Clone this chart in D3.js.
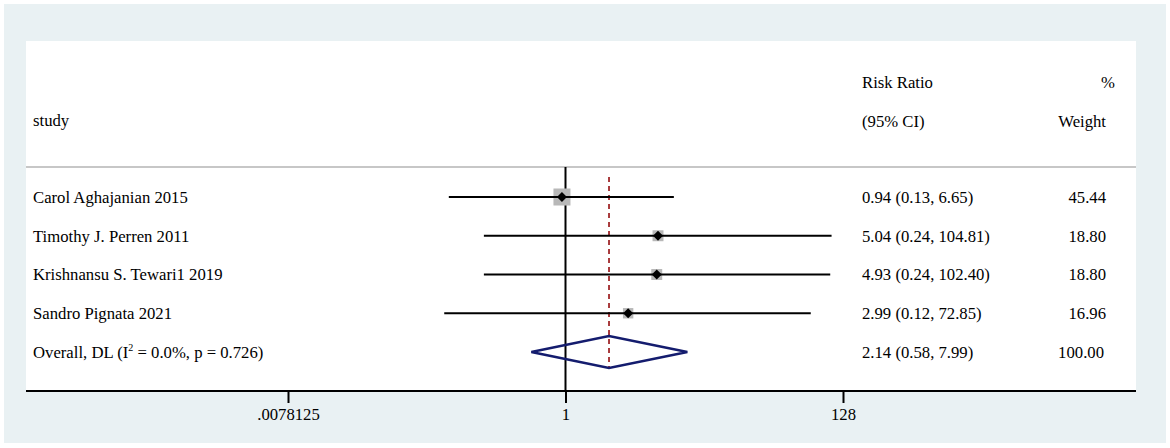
<!DOCTYPE html>
<html><head><meta charset="utf-8">
<script src="https://cdn.jsdelivr.net/npm/d3@7"></script>
<style>html,body{margin:0;padding:0;background:#fff;}svg{display:block;}</style>
</head><body>
<svg id="c" width="1170" height="448"></svg>
<script>
const studies = ["Carol Aghajanian 2015", "Timothy J. Perren 2011", "Krishnansu S. Tewari1 2019", "Sandro Pignata 2021"];
const rr = [0.94, 5.04, 4.93, 2.99];
const lo = [0.13, 0.24, 0.24, 0.12];
const hi = [6.65, 104.81, 102.40, 72.85];
const weights = [45.44, 18.80, 18.80, 16.96];
const ciText = ["0.94 (0.13, 6.65)", "5.04 (0.24, 104.81)", "4.93 (0.24, 102.40)", "2.99 (0.12, 72.85)"];
const weightText = ["45.44", "18.80", "18.80", "16.96"];
const overallRR = 2.14, overallLo = 0.58, overallHi = 7.99;
const overallCI = "2.14 (0.58, 7.99)", overallW = "100.00";
const tickValues = [0.0078125, 1, 128];
const tickLabels = [".0078125", "1", "128"];

const svg = d3.select("#c");
const font = "'Liberation Serif','Times New Roman',serif";
const fs = 16.7;

// backgrounds
svg.append("rect").attr("x",4).attr("y",4).attr("width",1162).attr("height",439).attr("fill","#e9f1f3");
svg.append("rect").attr("x",26).attr("y",41).attr("width",1110).attr("height",350).attr("fill","#fff");

const x = d3.scaleLog().base(2).domain([2**-7, 2**7]).range([288, 843]);
const y = d3.scalePoint().domain(d3.range(5)).range([197, 352]);
const box = d3.scaleSqrt().domain([0, 45.44]).range([0, 17]);

// header
const hdr = svg.append("g").attr("font-family", font).attr("font-size", fs).attr("fill","#000");
hdr.append("text").attr("x",33).attr("y",120).attr("dy","0.35em").text("study");
hdr.append("text").attr("x",862).attr("y",82).attr("dy","0.35em").text("Risk Ratio");
hdr.append("text").attr("x",862).attr("y",121).attr("dy","0.35em").text("(95% CI)");
hdr.append("text").attr("x",1115).attr("y",82).attr("dy","0.35em").attr("text-anchor","end").text("%");
hdr.append("text").attr("x",1106).attr("y",121).attr("dy","0.35em").attr("text-anchor","end").text("Weight");
svg.append("line").attr("x1",26).attr("x2",1136).attr("y1",167).attr("y2",167).attr("stroke","#b4b4b4").attr("stroke-width",1.5);

// null line
svg.append("line").attr("x1",x(1)).attr("x2",x(1)).attr("y1",167).attr("y2",391).attr("stroke","#000").attr("stroke-width",2);

// overall dashed line
svg.append("line").attr("x1",x(overallRR)).attr("x2",x(overallRR)).attr("y1",177).attr("y2",369)
  .attr("stroke","#a0282a").attr("stroke-width",1.8).attr("stroke-dasharray","5,4");

// study rows
const rows = svg.append("g");
studies.forEach((s,i)=>{
  const yy = y(i);
  const b = box(weights[i]);
  rows.append("rect").attr("x",x(rr[i])-b/2).attr("y",yy-b/2).attr("width",b).attr("height",b).attr("fill","#b8b8b8");
  rows.append("line").attr("x1",x(lo[i])).attr("x2",x(hi[i])).attr("y1",yy).attr("y2",yy).attr("stroke","#000").attr("stroke-width",2);
  const cx = x(rr[i]), r = 5;
  rows.append("path").attr("d",`M${cx-r},${yy}L${cx},${yy-r}L${cx+r},${yy}L${cx},${yy+r}Z`).attr("fill","#000");
  const t = rows.append("g").attr("font-family",font).attr("font-size",fs);
  t.append("text").attr("x",33).attr("y",yy).attr("dy","0.35em").text(s);
  t.append("text").attr("x",862).attr("y",yy).attr("dy","0.35em").text(ciText[i]);
  t.append("text").attr("x",1106).attr("y",yy).attr("dy","0.35em").attr("text-anchor","end").text(weightText[i]);
});

// overall
const yo = y(4);
svg.append("path")
  .attr("d",`M${x(overallLo)-3},${yo}L${x(overallRR)},${yo-16}L${x(overallHi)+3},${yo}L${x(overallRR)},${yo+16}Z`)
  .attr("fill","none").attr("stroke","#141c6e").attr("stroke-width",2.5);
const ot = svg.append("g").attr("font-family",font).attr("font-size",fs);
const lab = ot.append("text").attr("x",33).attr("y",yo+6);
lab.append("tspan").text("Overall, DL (I");
lab.append("tspan").attr("font-size",10).attr("dy",-7).text("2");
lab.append("tspan").attr("dy",7).text(" = 0.0%, p = 0.726)");
ot.append("text").attr("x",862).attr("y",yo).attr("dy","0.35em").text(overallCI);
ot.append("text").attr("x",1104).attr("y",yo).attr("dy","0.35em").attr("text-anchor","end").text(overallW);

// axis
svg.append("line").attr("x1",26).attr("x2",1136).attr("y1",391).attr("y2",391).attr("stroke","#000").attr("stroke-width",2);
const ax = svg.append("g").attr("transform","translate(0,391)")
  .call(d3.axisBottom(x).tickValues(tickValues).tickSize(12).tickPadding(5).tickFormat((d,i)=>tickLabels[i]));
ax.select(".domain").remove();
ax.selectAll(".tick line").attr("stroke","#000").attr("stroke-width",2);
ax.selectAll(".tick text").attr("font-family",font).attr("font-size",fs).attr("fill","#000");
</script>
</body></html>
